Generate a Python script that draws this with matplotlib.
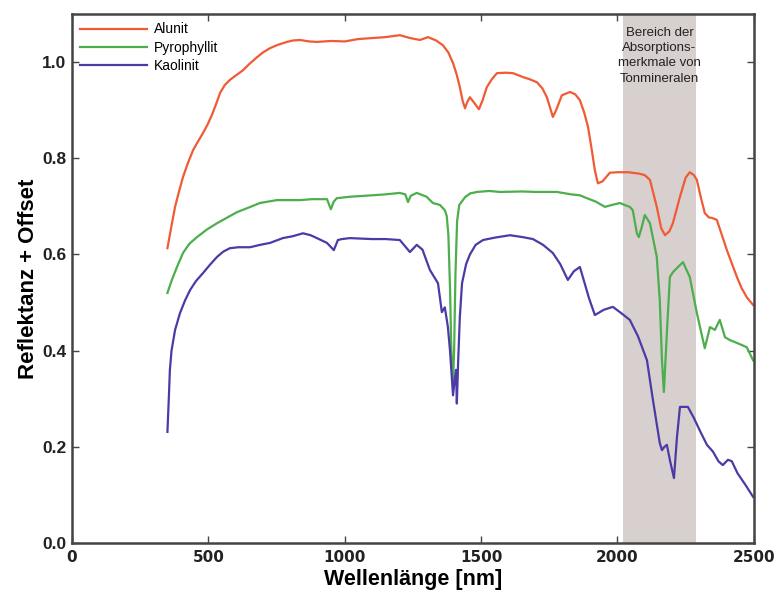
import matplotlib
matplotlib.use("Agg")
import matplotlib.pyplot as plt

# Reflectance spectra (wavelength in nm, reflectance + offset)
alunit_wl = [350, 365, 378, 392, 407, 425, 444, 462, 480, 497,
             513, 528, 543, 560, 579, 600, 627, 650, 678, 700,
             726, 755, 788, 810, 836, 870, 898, 950, 1000, 1050,
             1100, 1150, 1202, 1240, 1276, 1305, 1335, 1360, 1380, 1397,
             1410, 1422, 1432, 1441, 1450, 1459, 1475, 1492, 1505, 1521,
             1540, 1558, 1590, 1617, 1653, 1680, 1705, 1725, 1741, 1753,
             1763, 1775, 1796, 1826, 1845, 1862, 1878, 1892, 1905, 1917,
             1928, 1945, 1972, 2000, 2040, 2080, 2100, 2119, 2144, 2160,
             2174, 2190, 2203, 2229, 2250, 2265, 2280, 2291, 2305, 2320,
             2335, 2346, 2364, 2380, 2401, 2420, 2438, 2455, 2474, 2497]
alunit_r = [0.613, 0.660, 0.699, 0.730, 0.761, 0.790, 0.817, 0.835, 0.852, 0.870,
            0.890, 0.912, 0.936, 0.952, 0.963, 0.972, 0.983, 0.996, 1.010, 1.020,
            1.029, 1.036, 1.042, 1.045, 1.046, 1.043, 1.042, 1.044, 1.043, 1.048,
            1.050, 1.052, 1.056, 1.050, 1.046, 1.052, 1.045, 1.035, 1.020, 0.998,
            0.975, 0.948, 0.920, 0.904, 0.918, 0.927, 0.915, 0.902, 0.920, 0.948,
            0.965, 0.977, 0.978, 0.977, 0.969, 0.964, 0.958, 0.945, 0.927, 0.905,
            0.886, 0.900, 0.931, 0.938, 0.933, 0.921, 0.895, 0.865, 0.820, 0.775,
            0.748, 0.752, 0.770, 0.771, 0.771, 0.768, 0.765, 0.755, 0.699, 0.655,
            0.640, 0.648, 0.665, 0.720, 0.760, 0.771, 0.765, 0.755, 0.720, 0.686,
            0.677, 0.676, 0.672, 0.645, 0.609, 0.580, 0.553, 0.530, 0.511, 0.495]

pyro_wl = [350, 365, 385, 407, 430, 458, 495, 532, 570, 605,
           650, 689, 720, 751, 800, 836, 880, 935, 949, 960,
           971, 1019, 1100, 1150, 1202, 1222, 1232, 1242, 1264, 1300,
           1323, 1349, 1367, 1374, 1380, 1386, 1390, 1394, 1397, 1401,
           1406, 1412, 1420, 1441, 1460, 1485, 1530, 1569, 1650, 1700,
           1778, 1830, 1862, 1888, 1920, 1954, 1980, 2009, 2030, 2045,
           2056, 2071, 2078, 2089, 2100, 2119, 2144, 2155, 2163, 2170,
           2181, 2192, 2203, 2222, 2240, 2265, 2291, 2320, 2339, 2357,
           2375, 2394, 2412, 2438, 2474, 2497]
pyro_r = [0.520, 0.545, 0.574, 0.603, 0.622, 0.636, 0.652, 0.665, 0.677, 0.688,
          0.698, 0.707, 0.710, 0.713, 0.713, 0.713, 0.715, 0.715, 0.694, 0.710,
          0.717, 0.720, 0.723, 0.725, 0.728, 0.725, 0.709, 0.722, 0.728, 0.720,
          0.707, 0.703, 0.692, 0.680, 0.640, 0.530, 0.420, 0.350, 0.333, 0.400,
          0.560, 0.670, 0.703, 0.719, 0.727, 0.730, 0.732, 0.730, 0.731, 0.730,
          0.730, 0.725, 0.723, 0.717, 0.710, 0.699, 0.703, 0.707, 0.702, 0.699,
          0.692, 0.644, 0.636, 0.657, 0.682, 0.665, 0.595, 0.505, 0.380, 0.314,
          0.437, 0.553, 0.563, 0.574, 0.584, 0.553, 0.478, 0.405, 0.449, 0.443,
          0.464, 0.428, 0.422, 0.416, 0.407, 0.380]

kaol_wl = [350, 355, 359, 365, 378, 396, 415, 433, 455, 480,
           505, 532, 555, 579, 610, 653, 690, 726, 773, 810,
           847, 875, 898, 935, 960, 975, 990, 1019, 1100, 1150,
           1202, 1239, 1264, 1285, 1312, 1342, 1356, 1367, 1378, 1386,
           1397, 1403, 1408, 1411, 1416, 1422, 1430, 1445, 1459, 1480,
           1507, 1550, 1606, 1653, 1690, 1727, 1763, 1790, 1818, 1840,
           1862, 1873, 1895, 1917, 1950, 1983, 2009, 2045, 2075, 2108,
           2130, 2155, 2163, 2172, 2181, 2193, 2207, 2218, 2229, 2258,
           2280, 2305, 2328, 2350, 2370, 2386, 2405, 2419, 2440, 2470,
           2497]
kaol_r = [0.231, 0.300, 0.360, 0.400, 0.443, 0.478, 0.505, 0.526, 0.545, 0.561,
          0.578, 0.595, 0.606, 0.613, 0.615, 0.615, 0.620, 0.624, 0.634, 0.638,
          0.644, 0.640, 0.634, 0.624, 0.609, 0.630, 0.632, 0.634, 0.632, 0.632,
          0.630, 0.605, 0.620, 0.610, 0.568, 0.540, 0.480, 0.490, 0.450, 0.400,
          0.307, 0.340, 0.360, 0.290, 0.380, 0.470, 0.540, 0.580, 0.600, 0.620,
          0.630, 0.635, 0.640, 0.636, 0.632, 0.620, 0.603, 0.580, 0.547, 0.565,
          0.574, 0.553, 0.510, 0.474, 0.485, 0.491, 0.480, 0.464, 0.430, 0.380,
          0.297, 0.208, 0.193, 0.200, 0.204, 0.170, 0.135, 0.220, 0.283, 0.283,
          0.260, 0.230, 0.204, 0.190, 0.170, 0.162, 0.173, 0.170, 0.145, 0.120,
          0.096]

series_names = ["Alunit", "Pyrophyllit", "Kaolinit"]
series_colors = ["#f05a35", "#4cae4c", "#4b3ba6"]

band_range = (2022, 2286)
band_text = "Bereich der\nAbsorptions-\nmerkmale von\nTonmineralen"

x_ticks = [0, 500, 1000, 1500, 2000, 2500]
y_ticks = [0.0, 0.2, 0.4, 0.6, 0.8, 1.0]

plt.rcParams["font.family"] = ["Liberation Sans", "DejaVu Sans"]

fig = plt.figure(figsize=(7.78, 5.97), dpi=100)
ax = fig.add_axes([0.0925, 0.0905, 0.8765, 0.886])

ax.axvspan(band_range[0], band_range[1], color="#d8cfcf", lw=0, zorder=0)

for wl, r, name, c in zip([alunit_wl, pyro_wl, kaol_wl],
                          [alunit_r, pyro_r, kaol_r],
                          series_names, series_colors):
    ax.plot(wl, r, color=c, lw=1.6, label=name, zorder=2)

ax.text(sum(band_range) / 2, 1.074, band_text, ha="center", va="top",
        fontsize=9.5, linespacing=1.38, color="#222222", zorder=3)

ax.set_xlim(0, 2500)
ax.set_ylim(0, 1.1)
ax.set_xticks(x_ticks)
ax.set_yticks(y_ticks)
ax.set_xticklabels([str(v) for v in x_ticks])
ax.set_yticklabels([f"{v:.1f}" for v in y_ticks])

ax.tick_params(direction="in", top=True, right=True, length=5, width=1,
               color="#444444", labelcolor="#222222")
ax.tick_params(axis="x", pad=5)
ax.tick_params(axis="y", pad=4)
for lab in ax.get_xticklabels():
    lab.set_fontfamily("DejaVu Sans")
    lab.set_fontweight("bold")
    lab.set_fontsize(11)
for lab in ax.get_yticklabels():
    lab.set_fontweight("bold")
    lab.set_fontsize(12.5)
for sp in ax.spines.values():
    sp.set_linewidth(1.8)
    sp.set_color("#444444")

ax.set_xlabel("Wellenlänge [nm]", fontsize=15.5, fontweight="bold", labelpad=3)
ax.set_ylabel("Reflektanz + Offset", fontsize=16, fontweight="bold", labelpad=2)

leg = ax.legend(loc="upper left", frameon=False, fontsize=10,
                handlelength=4.8, handletextpad=0.5, labelspacing=0.3,
                borderaxespad=0.2, bbox_to_anchor=(0.0, 1.0))

fig.savefig("out.png", dpi=100)
